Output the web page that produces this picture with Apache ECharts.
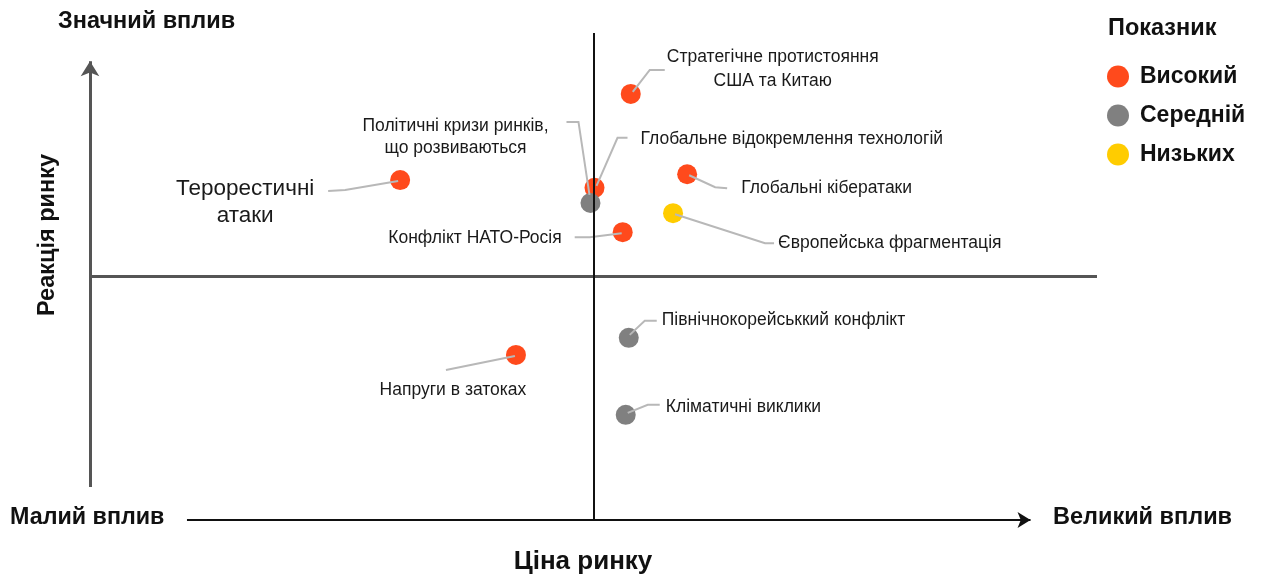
<!DOCTYPE html>
<html>
<head>
<meta charset="utf-8">
<script src="https://cdn.jsdelivr.net/npm/echarts@6/dist/echarts.min.js"></script>
<style>html,body{margin:0;padding:0;background:#fff}#c{width:1261px;height:579px}</style>
</head>
<body>
<div id="c"></div>
<script>
// ---- data ----
const names = [
  'Стратегічне протистояння\nСША та Китаю',
  'Глобальне відокремлення технологій',
  'Політичні кризи ринків,\nщо розвиваються',
  'Глобальні кібератаки',
  'Європейська фрагментація',
  'Конфлікт НАТО-Росія',
  'Терорестичні\nатаки',
  'Північнокорейськкий конфлікт',
  'Напруги в затоках',
  'Кліматичні виклики'
];
const priceImpact    = [5.37, 5.01, 4.97, 5.93, 5.79, 5.29, 3.08, 5.35, 4.23, 5.32];
const marketReaction = [8.75, 6.82, 6.51, 7.10, 6.30, 5.91, 6.98, 3.74, 3.39, 2.16];
const levels = ['Високий', 'Високий', 'Середній', 'Високий', 'Низьких', 'Високий', 'Високий', 'Середній', 'Високий', 'Середній'];
const levelNames = ['Високий', 'Середній', 'Низьких'];

// ---- styling / label layout (pixel offsets from each point) ----
const levelColors = { 'Високий': '#FF4A1C', 'Середній': '#808080', 'Низьких': '#FFCC00' };
const labelLayout = [
  { line: [[2,-2],[19,-24],[34,-24]], pos: [142,-25], align: 'center', size: 17.5, lh: 24 },
  { line: [[2,-2],[23,-50],[33,-50]], pos: [46,-49], align: 'left', size: 17.5, lh: 20 },
  { line: [[-1,-8],[-12,-81],[-24,-81]], pos: [-135,-66], align: 'center', size: 17.5, lh: 22 },
  { line: [[2,1],[28,13],[40,14]], pos: [54,14], align: 'left', size: 17.5, lh: 20 },
  { line: [[2,1],[92,30],[101,30]], pos: [105,30], align: 'left', size: 17.5, lh: 20 },
  { line: [[-1,1],[-33,5],[-48,5]], pos: [-61,6], align: 'right', size: 17.5, lh: 20 },
  { line: [[-2,1],[-55,10],[-72,11]], pos: [-155,22], align: 'center', size: 22.5, lh: 27 },
  { line: [[1,-3],[16,-17],[28,-17]], pos: [33,-18], align: 'left', size: 17.5, lh: 20 },
  { line: [[-1,1],[-70,15]], pos: [-63,35], align: 'center', size: 17.5, lh: 20 },
  { line: [[2,-2],[22,-10],[34,-10]], pos: [40,-8], align: 'left', size: 17.5, lh: 20 }
];
const FONT = "'Liberation Sans', Arial, sans-serif";

const chart = echarts.init(document.getElementById('c'), null, { renderer: 'canvas' });

const scatterSeries = levelNames.map(lv => ({
  name: lv,
  type: 'scatter',
  symbolSize: 20,
  itemStyle: { color: levelColors[lv], opacity: 1 },
  z: 3,
  data: priceImpact.map((x, i) => levels[i] === lv ? [x, marketReaction[i], names[i]] : null).filter(Boolean)
}));

const labelSeries = {
  type: 'custom',
  silent: true,
  z: 4,
  data: priceImpact.map((x, i) => [x, marketReaction[i], i]),
  renderItem: function (params, api) {
    const p = api.coord([api.value(0), api.value(1)]);
    const idx = api.value(2);
    const L = labelLayout[idx];
    const pts = L.line.map(d => [p[0] + d[0], p[1] + d[1]]);
    return {
      type: 'group',
      children: [
        { type: 'polyline', shape: { points: pts }, style: { stroke: '#b8b8b8', lineWidth: 2, fill: null } },
        { type: 'text', x: p[0] + L.pos[0], y: p[1] + L.pos[1],
          style: { text: names[idx], fill: '#1a1a1a', font: L.size + 'px ' + FONT,
                   align: L.align, verticalAlign: 'middle', lineHeight: L.lh } }
      ]
    };
  }
};

const axisSeries = {
  type: 'scatter',
  data: [],
  silent: true,
  z: 1,
  markLine: {
    silent: true,
    symbol: 'none',
    label: { show: false },
    animation: false,
    data: [
      { yAxis: 5, lineStyle: { color: '#555', width: 3, type: 'solid' } },
      { xAxis: 5, lineStyle: { color: '#111', width: 2, type: 'solid' } },
      [ { coord: [0, 0.68], symbol: 'none', lineStyle: { color: '#555', width: 3, type: 'solid' } },
        { coord: [0, 9.42], symbol: 'arrow', symbolSize: [14, 15] } ],
      [ { coord: [0.963, 0], symbol: 'none', lineStyle: { color: '#111', width: 2, type: 'solid' } },
        { coord: [9.34, 0], symbol: 'arrow', symbolSize: [12, 13] } ]
    ]
  }
};

const boldText = (txt, x, y, size, align) => ({
  type: 'text', x: x, y: y, silent: true,
  style: { text: txt, fill: '#111', font: 'bold ' + size + 'px ' + FONT, align: align || 'left', verticalAlign: 'middle' }
});

chart.setOption({
  animation: false,
  backgroundColor: '#fff',
  grid: { left: 90, right: 164, top: 33, bottom: 59 },
  xAxis: { type: 'value', min: 0, max: 10, show: false },
  yAxis: { type: 'value', min: 0, max: 10, show: false },
  legend: {
    orient: 'vertical',
    left: 1102,
    top: 60,
    itemWidth: 22,
    itemHeight: 22,
    itemGap: 16,
    icon: 'circle',
    data: levelNames,
    textStyle: { fontSize: 23, fontWeight: 'bold', color: '#111', fontFamily: FONT, padding: [0, 0, 0, 6] }
  },
  graphic: [
    boldText('Значний вплив', 58, 22, 23.5),
    boldText('Малий вплив', 10, 518, 23.3),
    boldText('Великий вплив', 1053, 518, 23.5),
    boldText('Показник', 1108, 29, 23.5),
    boldText('Ціна ринку', 583, 562, 26, 'center'),
    { type: 'text', x: 48, y: 235, rotation: Math.PI / 2, silent: true,
      style: { text: 'Реакція ринку', fill: '#111', font: 'bold 23.5px ' + FONT, align: 'center', verticalAlign: 'middle' } }
  ],
  series: [axisSeries].concat(scatterSeries).concat([labelSeries])
});
</script>
</body>
</html>
